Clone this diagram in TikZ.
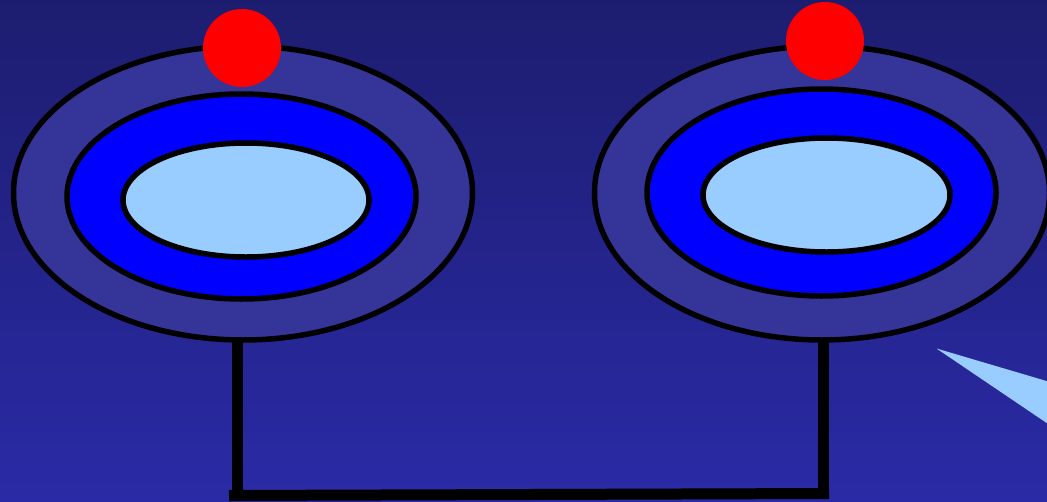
\documentclass[tikz,border=0pt]{standalone}
\usetikzlibrary{shapes.geometric}
\definecolor{bgtop}{RGB}{29,29,112}
\definecolor{bgbot}{RGB}{42,42,166}
\definecolor{ringouter}{RGB}{53,53,153}
\definecolor{ringmid}{RGB}{0,0,255}
\definecolor{ringinner}{RGB}{153,204,255}
\definecolor{dotred}{RGB}{255,0,0}
\tikzset{
  ring/.style={shape=ellipse, draw=black, line width=5.5pt, inner sep=0pt, outer sep=0pt},
  dot/.style={shape=circle, fill=dotred, inner sep=0pt},
  wire/.style={draw=black, line width=11pt},
}
\begin{document}
\begin{tikzpicture}[x=1pt,y=-1pt]
\useasboundingbox (0,0) rectangle (1047,501);
\clip (0,0) rectangle (1047,501);
\shade[top color=bgtop, bottom color=bgbot] (0,0) rectangle (1047,501);
% light triangle at right
\fill[ringinner] (936.5,348.5) -- (1060,385) -- (1060,432) -- cycle;
% connectors
\coordinate (bl) at (237.5,495.5);
\coordinate (br) at (823.5,493.5);
% left rings
\node[ring, fill=ringouter, minimum width=459pt, minimum height=294pt] (lo) at (243,193) {};
\node[ring, fill=ringmid, minimum width=349pt, minimum height=205pt] (lm) at (241.5,196.5) {};
\node[ring, fill=ringinner, minimum width=246pt, minimum height=114pt] (li) at (246,200) {};
\node[dot, minimum size=78pt] (ld) at (242,48) {};
% right rings
\node[ring, fill=ringouter, minimum width=455pt, minimum height=294pt] (ro) at (822,193) {};
\node[ring, fill=ringmid, minimum width=349pt, minimum height=207pt] (rm) at (821.5,192.5) {};
\node[ring, fill=ringinner, minimum width=247pt, minimum height=114pt] (ri) at (826.5,195) {};
\node[dot, minimum size=78pt] (rd) at (825,41) {};
% wire
\draw[wire] (lo.south -| bl) -- (bl);
\draw[wire] (ro.south -| br) -- (br);
\draw[wire] ([xshift=-8.5pt]bl) -- ([xshift=5.5pt]br);
\end{tikzpicture}
\end{document}
